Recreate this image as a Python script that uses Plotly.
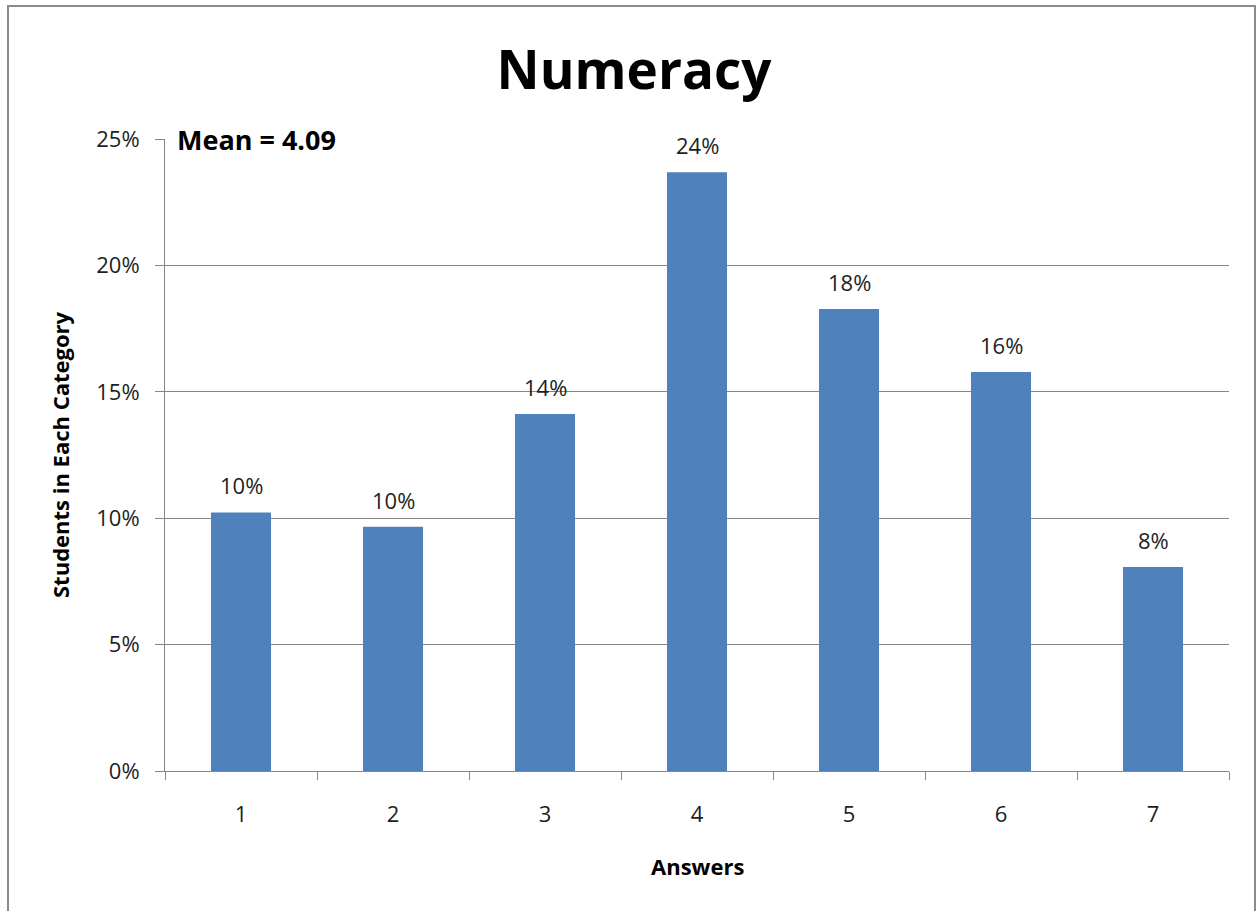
import plotly.graph_objects as go

# Share of students giving each answer (1-7)
answers = ["1", "2", "3", "4", "5", "6", "7"]
shares = [0.1023, 0.0966, 0.1412, 0.2368, 0.1828, 0.1578, 0.0807]
mean_answer = 4.09

W, H = 1257, 911
L, R, T, B = 165, 28, 139, 140
plot_w = W - L - R
plot_h = H - T - B

BAR = "#4F81BD"
GRID = "#868686"
TXT = "#1e1e1e"
FONT = "Open Sans"

fig = go.Figure(
    go.Bar(
        x=answers,
        y=shares,
        marker=dict(color=BAR, line=dict(width=0)),
        hoverinfo="x+y",
    )
)

# value labels above each bar (positioned by category index)
for i, v in enumerate(shares):
    fig.add_annotation(
        x=i, y=v, xref="x", yref="y",
        text=f"{v:.0%}", showarrow=False,
        yanchor="bottom", yshift=10,
        font=dict(family=FONT, size=22, color=TXT),
    )

# mean note in the top-left corner of the plot
fig.add_annotation(
    x=(175 - L) / plot_w, y=1, xref="paper", yref="paper",
    text=f"<b>Mean = {mean_answer:.2f}</b>", showarrow=False,
    xanchor="left", yanchor="middle",
    font=dict(family=FONT, size=27, color="#000000"),
)

# axis titles
fig.add_annotation(
    x=(60 - L) / plot_w, y=0.5, xref="paper", yref="paper",
    text="<b>Students in Each Category</b>", showarrow=False, textangle=-90,
    xanchor="center", yanchor="middle",
    font=dict(family=FONT, size=22, color="#000000"),
)
fig.add_annotation(
    x=0.5, y=-(866 - (H - B)) / plot_h, xref="paper", yref="paper",
    text="<b>Answers</b>", showarrow=False,
    xanchor="center", yanchor="middle",
    font=dict(family=FONT, size=22, color="#000000"),
)

# outer chart frame
fig.add_shape(
    type="rect", xref="paper", yref="paper",
    x0=(8 - L) / plot_w, x1=(1255 - L) / plot_w,
    y0=-(925 - (H - B)) / plot_h, y1=((H - B) - 6) / plot_h,
    line=dict(color="#8c8c8c", width=2), fillcolor="rgba(0,0,0,0)",
    layer="below",
)

fig.update_layout(
    width=W, height=H,
    margin=dict(l=L, r=R, t=T, b=B),
    paper_bgcolor="white", plot_bgcolor="white",
    showlegend=False,
    bargap=0.605,
    title=dict(
        text="<b>Numeracy</b>", xref="container", yref="container",
        x=634 / W, y=1 - 70 / H, xanchor="center", yanchor="middle",
        font=dict(family=FONT, size=53, color="#000000"),
    ),
    font=dict(family=FONT, color=TXT),
)

fig.update_xaxes(
    type="category",
    range=[-0.5, len(answers) - 0.5],
    tickson="boundaries",
    ticks="outside", ticklen=8, tickcolor=GRID, tickwidth=1,
    showline=True, linecolor=GRID, linewidth=1,
    showgrid=False,
    ticklabelstandoff=24,
    tickfont=dict(family=FONT, size=22, color=TXT),
)

fig.update_yaxes(
    range=[0, 0.25],
    dtick=0.05, tick0=0,
    tickformat=".0%",
    ticks="outside", ticklen=9, tickcolor=GRID, tickwidth=1,
    showline=True, linecolor=GRID, linewidth=1,
    showgrid=True, gridcolor=GRID, gridwidth=1,
    zeroline=False,
    ticklabelstandoff=11,
    tickfont=dict(family=FONT, size=22, color=TXT),
)

fig.write_html("out.html")
